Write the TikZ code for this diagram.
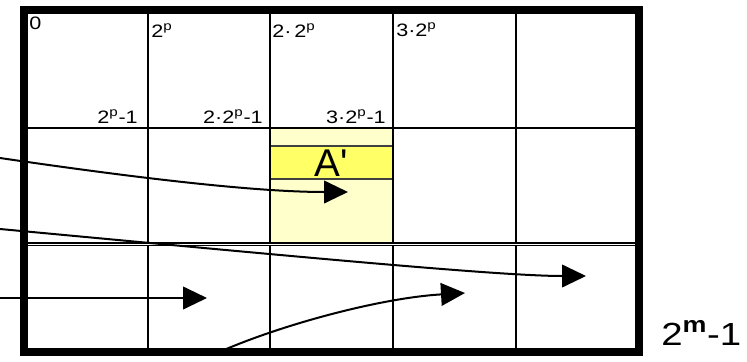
\documentclass[tikz,border=0pt]{standalone}
\usepackage{fontspec}
\setmainfont{Liberation Sans}
\newfontfamily\wideSans[FakeStretch=1.2]{Liberation Sans}
\usepackage{xcolor}
\usetikzlibrary{arrows.meta}
\definecolor{cellYellow}{RGB}{255, 255, 204}
\definecolor{stripeYellow}{RGB}{255, 255, 102}
\tikzset{
	grid line/.style={line width=1.5pt},
	move arrow/.style={line width=1.5pt, -{Triangle[length=18pt, width=17pt]}},
	cell label/.style={font=\wideSans\fontsize{13.5}{14}\selectfont, inner sep=0pt},
}

\begin{document}
\begin{tikzpicture}[x=0.75pt, y=-0.75pt]
	\useasboundingbox (0,0) rectangle (747,361);
	% the marked cell with its stripe
	\fill[cellYellow] (270,128) rectangle (393,244);
	\fill[stripeYellow] (270,146) rectangle (393,179);
	\draw[black!75, line width=0.9pt] (270,146) -- (393,146) (270,179) -- (393,179);
	\node[font=\fontsize{29}{30}\selectfont, inner sep=0pt] (aprime) at (331.5,163) {A\textquotesingle};
	% grid
	\foreach \x in {148,270,393,516}
		\draw[grid line] (\x,10) -- (\x,352);
	\draw[grid line] (24,128) -- (639,128);
	\draw[line width=0.9pt, double, double distance=0.5pt] (24,244) -- (639,244);
	\draw[line width=6pt] (24,10) rectangle (639,352);
	% start of each block
	\node[cell label, anchor=base west] (start0) at (29,29) {0};
	\node[cell label, anchor=base west] (start1) at (151,37) {2\textsuperscript{p}};
	\node[cell label, anchor=base west] (start2) at (272,37) {2·\,2\textsuperscript{p}};
	\node[cell label, anchor=base west] (start3) at (396,36) {3·2\textsuperscript{p}};
	% end of each block
	\node[cell label, anchor=base east] (end1) at (138,123) {2\textsuperscript{p}-1};
	\node[cell label, anchor=base east] (end2) at (263,123) {2·2\textsuperscript{p}-1};
	\node[cell label, anchor=base east] (end3) at (386,123) {3·2\textsuperscript{p}-1};
	\node[font=\wideSans\fontsize{24}{25}\selectfont, anchor=base west, inner sep=0pt] (last) at (661,345)
	{2\textsuperscript{\bfseries m}-1};
	% accesses
	\coordinate (in1) at (0,158);
	\coordinate (out1) at (348,192);
	\coordinate (in2) at (0,229);
	\coordinate (out2) at (586,276);
	\coordinate (in3) at (0,298);
	\coordinate (out3) at (207,298);
	\coordinate (in4) at (217,353);
	\coordinate (out4) at (465,293);
	\draw[move arrow] (in1) .. controls (150,180) and (260,192) .. (out1);
	\draw[move arrow] (in2) .. controls (300,257) and (500,276) .. (out2);
	\draw[move arrow] (in3) -- (out3);
	\draw[move arrow] (in4) .. controls (280,325) and (380,298) .. (out4);
\end{tikzpicture}
\end{document}
